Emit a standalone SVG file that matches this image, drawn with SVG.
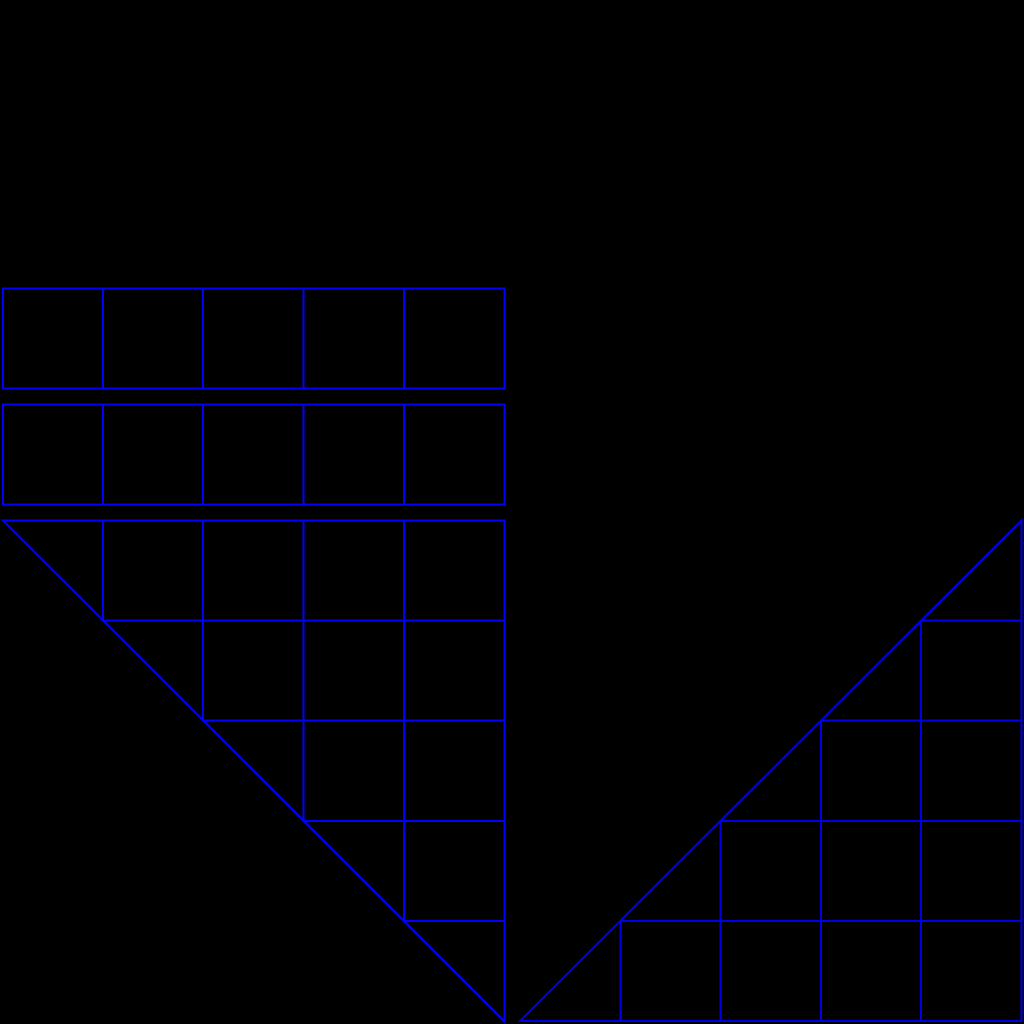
<svg xmlns="http://www.w3.org/2000/svg" width="1024" height="1024" viewBox="0 0 1024 1024">
<style>
.g{fill:none;stroke:#0000ff;stroke-width:2}
.r{fill:none;stroke:#0000e6;stroke-width:2}
</style>
<rect width="1024" height="1024" fill="#000"/>
<g id="strip1" class="g">
<rect x="3" y="288.5" width="501.5" height="100"/>
<path d="M103 288.5V388.5M203 288.5V388.5M303.5 288.5V388.5M404 288.5V388.5"/>
</g>
<g id="strip2" class="g">
<rect x="3" y="404.5" width="501.5" height="100"/>
<path d="M103 404.5V504.5M203 404.5V504.5M303.5 404.5V504.5M404 404.5V504.5"/>
</g>
<g id="triangle-left" class="g">
<path d="M3 520.5H504.5V1021.5Z"/>
<path d="M103 520.5V620.5M203 520.5V720.5M303.5 520.5V821M404 520.5V921M103 620.5H504.5M203 720.5H504.5M303.5 821H504.5M404 921H504.5"/>
</g>
<g id="triangle-right" class="r">
<path d="M520 1021H1021.5V520.5Z"/>
<path d="M620.5 921V1021M720.5 821V1021M821 720.5V1021M921 620.5V1021M620.5 921H1021.5M720.5 821H1021.5M821 720.5H1021.5M921 620.5H1021.5"/>
</g>
</svg>
